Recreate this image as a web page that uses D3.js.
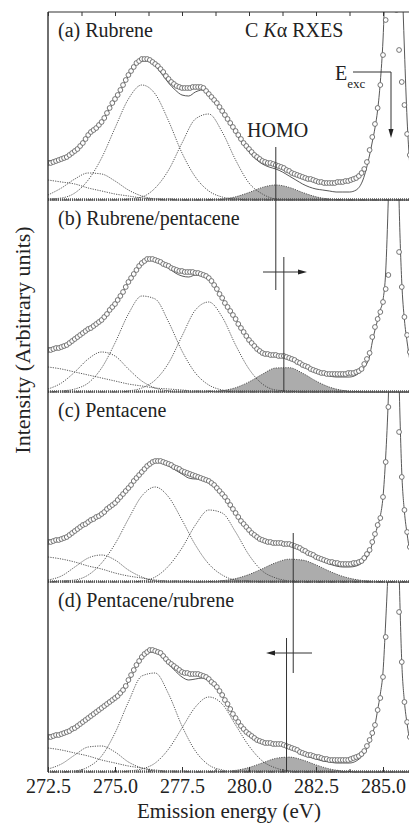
<!DOCTYPE html>
<html lang="en">
<head>
<meta charset="UTF-8">
<title>C K-alpha RXES</title>
<script src="https://d3js.org/d3.v7.min.js"></script>
<style>
    body { margin: 0; background: #fff; }
    svg { display: block; }
    svg text { font-family: "Liberation Serif", "DejaVu Serif", serif; }
    .lbl { font-size: 20px; fill: #222; }
</style>
</head>
<body>
<div id="chart"></div>
<script>
// measured spectra, one value every 0.1 eV starting at 272.5 eV
const circStart = 272.5, circStep = 0.1;
const circA = [
    37,37,38,39,40,41,42,43,45,47, 49,51,54,57,61,65,68,70,72,75,
    78,82,87,92,97,101,105,110,115,120, 125,129,133,137,139,141,141,141,140,138,
    136,134,131,128,124,121,118,116,114,113, 112,112,112,112,113,113,113,113,112,109,
    106,103,100,97,93,89,85,81,77,73, 69,65,61,57,54,51,48,45,43,41,
    39,38,37,37,36,35,34,33,32,30, 29,27,26,25,24,23,22,21,21,20,
    19,18,18,17,17,17,17,17,18,18, 18,19,19,20,21,22,24,27,31,38,
    50,63,76,92,115,145,180,220,250,240, 190,150,118,95,66,45];
const circB = [
    42,42,43,44,44,45,46,47,49,51, 53,55,57,59,61,63,64,66,68,70,
    72,75,78,82,85,88,92,96,100,105, 110,114,118,122,126,129,131,133,133,133,
    132,131,130,128,127,126,124,123,122,121, 121,120,120,120,120,119,119,118,117,116,
    114,111,107,103,98,94,89,85,81,77, 73,68,64,60,56,52,49,46,43,41,
    39,38,38,37,37,37,36,36,36,35, 34,33,32,30,29,27,26,25,23,22,
    21,20,19,19,18,18,18,18,18,18, 18,18,19,19,19,20,21,23,28,33,
    39,55,65,73,80,90,103,117,220,300, 260,140,105,75,57,40];
const circC = [
    40,40,41,42,42,43,44,45,47,49, 51,53,55,57,58,60,62,63,65,66,
    68,70,73,75,77,79,82,85,88,91, 94,97,101,104,107,110,113,116,118,120,
    121,121,121,120,119,118,117,115,114,113, 111,110,109,108,107,106,105,104,103,102,
    101,99,97,94,91,88,85,81,77,73, 69,65,61,58,55,52,49,47,45,43,
    42,41,40,40,39,39,39,39,38,38, 38,37,36,35,34,32,31,29,28,27,
    25,24,23,22,21,20,20,19,19,18, 18,18,18,18,19,19,20,21,24,28,
    32,40,48,57,64,85,120,175,240,290, 250,150,105,72,50,35];
const circD = [
    35,35,36,37,37,38,39,40,41,43, 44,46,48,50,52,54,56,58,60,62,
    64,66,68,70,72,74,76,79,82,86, 92,97,102,107,111,115,118,120,122,122,
    121,120,119,116,113,110,108,106,104,102, 100,99,99,98,98,98,98,97,96,95,
    93,90,88,85,81,77,72,68,63,58, 54,50,46,43,40,38,36,34,32,31,
    30,29,29,29,28,28,28,28,27,26, 25,24,23,22,20,19,18,17,17,16,
    15,15,14,13,13,12,12,12,12,12, 12,12,12,13,14,15,16,18,21,26,
    32,39,47,62,74,95,135,200,260,280, 230,160,110,70,50,35];

// fitted sum: 0.25 eV steps up to 284.5, then 0.1 eV across the elastic peak
const fitE = d3.range(272.5, 284.51, 0.25).concat(d3.range(284.6, 286.01, 0.1));
const fitA = [39,40,41,44,50,57,66,72,78,89,100,112,124,134,139,139,134,126,117,110,105,104,108,110,106,
    98,88,78,67,57,48,41,36,33,31,28,24,20,16,13,11,10,9,8,8,8,10,20,45,
    58,72,90,118,160,230,300,340,350,340,300,230,150,80,35];
const fitB = [44,44,45,48,53,58,63,67,72,80,88,98,110,120,128,132,131,128,124,119,116,115,117,117,113,
    105,94,83,73,62,52,45,40,38,37,36,34,31,27,23,20,18,16,15,15,15,17,23,36,
    50,62,72,82,92,120,195,300,360,330,190,110,72,50,32];
const fitC = [42,42,43,46,51,56,60,64,68,74,79,86,94,102,110,117,121,119,116,112,108,104,103,103,100,
    95,87,77,68,59,51,45,41,39,38,38,37,35,31,27,24,21,18,16,15,15,16,20,30,
    38,47,56,66,85,125,185,280,340,320,200,110,70,48,30];
const fitD = [37,37,38,41,45,49,54,59,64,69,74,80,90,103,114,120,120,115,108,101,95,92,93,94,91,
    85,76,65,54,45,38,33,30,29,28,27,25,22,18,15,13,11,10,9,9,9,11,17,30,
    38,47,62,78,100,150,210,290,330,300,200,110,70,48,30];

// fit components, 0.5 eV steps from 272.5 to 286.0
const compE = d3.range(272.5, 286.01, 0.5);
const compsA = [
    [1,2,7,20,42,72,101,115,106,79,47,23,9,3,1,0,0,0,0,0,0,0,0,0,0,0,0,0],
    [0,0,0,0,0,0,1,3,12,30,57,81,86,68,40,17,6,1,0,0,0,0,0,0,0,0,0,0],
    [5,12,21,27,26,19,10,4,1,0,0,0,0,0,0,0,0,0,0,0,0,0,0,0,0,0,0,0],
    [20,18,16,12,9,6,4,2,1,1,0,0,0,0,0,0,0,0,0,0,0,0,0,0,0,0,0,0]];
const compsB = [
    [0,1,3,9,24,49,78,96,93,70,41,19,7,2,0,0,0,0,0,0,0,0,0,0,0,0,0,0],
    [0,0,0,0,0,0,1,4,12,29,56,82,90,75,47,23,8,2,1,0,0,0,0,0,0,0,0,0],
    [3,9,20,33,40,36,23,11,4,1,0,0,0,0,0,0,0,0,0,0,0,0,0,0,0,0,0,0],
    [25,23,20,17,14,11,8,6,4,3,2,1,1,0,0,0,0,0,0,0,0,0,0,0,0,0,0,0]];
const compsC = [
    [0,1,2,7,19,38,63,86,95,85,62,37,18,7,2,1,0,0,0,0,0,0,0,0,0,0,0,0],
    [0,0,0,0,0,0,0,1,5,16,34,57,72,69,50,27,11,4,1,0,0,0,0,0,0,0,0,0],
    [2,6,15,24,27,22,12,5,1,0,0,0,0,0,0,0,0,0,0,0,0,0,0,0,0,0,0,0],
    [25,23,20,16,13,9,6,4,2,1,1,0,0,0,0,0,0,0,0,0,0,0,0,0,0,0,0,0]];
const compsD = [
    [0,0,1,5,16,39,70,96,99,78,46,21,7,2,0,0,0,0,0,0,0,0,0,0,0,0,0,0],
    [0,0,0,0,0,0,1,3,9,23,44,65,75,68,47,26,11,4,1,0,0,0,0,0,0,0,0,0],
    [3,8,17,25,26,20,10,4,1,0,0,0,0,0,0,0,0,0,0,0,0,0,0,0,0,0,0,0],
    [24,22,19,16,12,9,6,4,2,1,1,0,0,0,0,0,0,0,0,0,0,0,0,0,0,0,0,0]];
// HOMO component (shaded)
const homoA = [0,0,0,0,0,0,0,0,0,0,0,0,0.2,0.9,3.2,7.5,12.6,15,12.6,7.5,3.2,0.9,0.2,0,0,0,0,0];
const homoB = [0,0,0,0,0,0,0,0,0,0,0,0,0.3,1.4,4.3,10.1,17.8,24,24.3,18.8,11,4.9,1.6,0.4,0,0,0,0];
const homoC = [0,0,0,0,0,0,0,0,0,0,0,0,0.4,1.3,3.4,7.5,13.3,19.3,22.8,21.9,17.1,10.8,5.6,2.4,0.8,0.2,0,0];
const homoD = [0,0,0,0,0,0,0,0,0,0,0,0,0.1,0.4,1.6,4.5,9.1,13.6,14.9,12,7.1,3.1,1,0.2,0,0,0,0];

const panelLabels = ["(a) Rubrene", "(b) Rubrene/pentacene", "(c) Pentacene", "(d) Pentacene/rubrene"];
const majorTicks = [272.5, 275.0, 277.5, 280.0, 282.5, 285.0];
const minorTicks = [273.75, 276.25, 278.75, 281.25, 283.75];
// HOMO marker positions (eV)
const homoMarkE = [281.0, 281.3, 281.65, 281.4];

// ---- layout ----
const W = 409, H = 827;
const serif = "Liberation Serif, DejaVu Serif, serif";
const plotLeft = 48, plotTop = 12, plotBottom = 772;
const tops = [12, 200, 392, 582], bases = [200, 392, 582, 772];

const svg = d3.select("#chart").append("svg")
    .attr("width", W).attr("height", H)
    .attr("font-family", serif);

const x = d3.scaleLinear().domain([272.5, 286]).range([plotLeft, 409.8]);

const panels = [
    { circ: circA, fit: fitA, comps: compsA, homo: homoA },
    { circ: circB, fit: fitB, comps: compsB, homo: homoB },
    { circ: circC, fit: fitC, comps: compsC, homo: homoC },
    { circ: circD, fit: fitD, comps: compsD, homo: homoD }
];

panels.forEach((p, i) => {
    const y = d3.scaleLinear().domain([0, 100]).range([bases[i], bases[i] - 100]);
    const clipId = "clip" + i;
    svg.append("clipPath").attr("id", clipId).append("rect")
        .attr("x", plotLeft).attr("y", tops[i])
        .attr("width", W - plotLeft).attr("height", bases[i] - tops[i] + 2);
    const g = svg.append("g").attr("clip-path", `url(#${clipId})`);

    const line = d3.line().x(d => x(d[0])).y(d => y(d[1])).curve(d3.curveMonotoneX);

    // shaded HOMO peak
    const homoPts = compE.map((e, k) => [e, p.homo[k]]);
    g.append("path").datum(homoPts)
        .attr("d", d3.area().x(d => x(d[0])).y0(y(0)).y1(d => y(d[1])).curve(d3.curveMonotoneX))
        .attr("fill", "#acacac");
    g.append("path").datum(homoPts).attr("d", line)
        .attr("fill", "none").attr("stroke", "#444").attr("stroke-width", 0.9)
        .attr("stroke-dasharray", "1.2,1.2");

    // dotted components
    p.comps.forEach(c => {
        g.append("path").datum(compE.map((e, k) => [e, c[k]])).attr("d", line)
            .attr("fill", "none").attr("stroke", "#444").attr("stroke-width", 0.9)
            .attr("stroke-dasharray", "1.2,1.2");
    });

    // baseline band
    g.append("line").attr("x1", plotLeft).attr("x2", W).attr("y1", bases[i] - 0.5).attr("y2", bases[i] - 0.5)
        .attr("stroke", "#555").attr("stroke-width", 2.5).attr("stroke-dasharray", "1,1");

    // fit line
    g.append("path").datum(fitE.map((e, k) => [e, p.fit[k]])).attr("d", line)
        .attr("fill", "none").attr("stroke", "#444").attr("stroke-width", 0.9);

    // measured points
    g.selectAll("circle.pt").data(p.circ).join("circle")
        .attr("class", "pt")
        .attr("cx", (d, k) => x(circStart + k * circStep))
        .attr("cy", d => y(d))
        .attr("r", 2.4)
        .attr("fill", "#fff").attr("stroke", "#555").attr("stroke-width", 0.8);

    svg.append("text").attr("class", "lbl")
        .attr("x", 58).attr("y", tops[i] + 25)
        .text(panelLabels[i]);
});

// frame
svg.append("line").attr("x1", plotLeft).attr("x2", plotLeft).attr("y1", plotTop).attr("y2", plotBottom)
    .attr("stroke", "#333").attr("stroke-width", 1.4);
svg.append("line").attr("x1", plotLeft).attr("x2", W).attr("y1", plotTop).attr("y2", plotTop)
    .attr("stroke", "#333").attr("stroke-width", 1.2);

// top ticks (inward)
const allTicks = majorTicks.concat(minorTicks);
const topAx = svg.append("g").attr("transform", `translate(0,${plotTop})`)
    .call(d3.axisTop(x).tickValues(allTicks).tickSize(-4).tickFormat(""));
topAx.select(".domain").remove();
topAx.selectAll("line").attr("stroke", "#333");

// bottom axis
const botAx = svg.append("g").attr("transform", `translate(0,${plotBottom})`)
    .call(d3.axisBottom(x).tickValues(majorTicks).tickSize(-5).tickPadding(7)
        .tickFormat(d3.format(".1f")));
botAx.attr("font-family", serif).attr("font-size", 20);
botAx.select(".domain").remove();
botAx.selectAll("line").attr("stroke", "#333");
botAx.selectAll("text").attr("fill", "#222");
const botMinor = svg.append("g").attr("transform", `translate(0,${plotBottom})`)
    .call(d3.axisBottom(x).tickValues(minorTicks).tickSize(-3).tickFormat(""));
botMinor.select(".domain").remove();
botMinor.selectAll("line").attr("stroke", "#333");

// axis titles
svg.append("text").attr("class", "lbl")
    .attr("x", 229).attr("y", 818).attr("text-anchor", "middle")
    .style("font-size", "21px")
    .text("Emission energy (eV)");
svg.append("text").attr("class", "lbl")
    .attr("transform", "translate(30,340) rotate(-90)")
    .attr("text-anchor", "middle")
    .style("font-size", "22px")
    .text("Intensity (Arbitrary units)");

// title
const ttl = svg.append("text").attr("class", "lbl").attr("x", 245).attr("y", 37);
ttl.append("tspan").text("C ");
ttl.append("tspan").attr("font-style", "italic").text("K");
ttl.append("tspan").text("\u03b1 RXES");

// E_exc annotation
const ex = svg.append("text").attr("class", "lbl").attr("x", 335).attr("y", 80).text("E");
ex.append("tspan").attr("font-size", "13px").attr("dy", 8).text("exc");
svg.append("path").attr("d", "M353,72H391V134").attr("fill", "none")
    .attr("stroke", "#333").attr("stroke-width", 1);
svg.append("path").attr("d", "M388.5,129L391,138L393.5,129Z").attr("fill", "#222");

// HOMO annotation
svg.append("text").attr("class", "lbl").attr("x", 247).attr("y", 137).text("HOMO");

const ann = svg.append("g").attr("stroke", "#333").attr("stroke-width", 1).attr("fill", "none");
ann.append("line").attr("x1", x(homoMarkE[0])).attr("x2", x(homoMarkE[0])).attr("y1", 147).attr("y2", 290);
ann.append("line").attr("x1", x(homoMarkE[1])).attr("x2", x(homoMarkE[1])).attr("y1", 257).attr("y2", 392);
ann.append("line").attr("x1", 263).attr("x2", 300).attr("y1", 272).attr("y2", 272);
svg.append("path").attr("d", "M298,269.5L307,272L298,274.5Z").attr("fill", "#222");
ann.append("line").attr("x1", x(homoMarkE[2])).attr("x2", x(homoMarkE[2])).attr("y1", 533).attr("y2", 673);
ann.append("line").attr("x1", x(homoMarkE[3])).attr("x2", x(homoMarkE[3])).attr("y1", 638).attr("y2", 772);
ann.append("line").attr("x1", 312).attr("x2", 273).attr("y1", 653).attr("y2", 653);
svg.append("path").attr("d", "M275,650.5L266,653L275,655.5Z").attr("fill", "#222");
</script>
</body>
</html>
